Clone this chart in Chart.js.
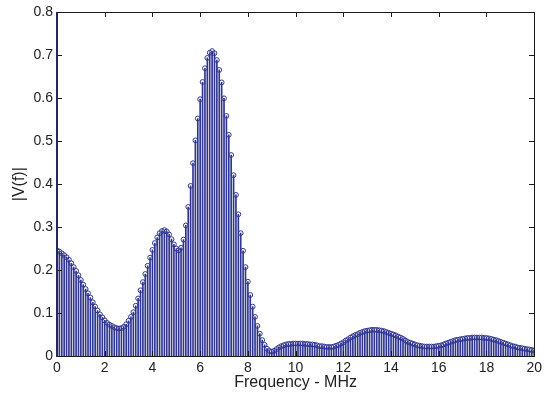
<!DOCTYPE html>
<html>
<head>
<meta charset="utf-8">
<script src="https://cdn.jsdelivr.net/npm/chart.js@4"></script>
<style>
  body { margin: 0; background: #fff; }
  #wrap { width: 546px; height: 396px; }
</style>
</head>
<body>
<div id="wrap"><canvas id="myChart"></canvas></div>
<script>
// muestras cada 0.1 MHz, de 0 a 20 MHz
const fStart = 0;
const fStep = 0.1;
const magnitud = [
  0.246, 0.243, 0.239, 0.235, 0.230, 0.224, 0.216, 0.207, 0.198, 0.188,
  0.177, 0.166, 0.156, 0.146, 0.136, 0.125, 0.115, 0.106, 0.097, 0.090,
  0.083, 0.077, 0.073, 0.070, 0.067, 0.065, 0.064, 0.065, 0.068, 0.074,
  0.082, 0.091, 0.102, 0.117, 0.134, 0.153, 0.172, 0.191, 0.210, 0.229,
  0.247, 0.263, 0.276, 0.286, 0.291, 0.293, 0.290, 0.283, 0.272, 0.260,
  0.250, 0.246, 0.252, 0.271, 0.304, 0.347, 0.396, 0.449, 0.502, 0.553,
  0.598, 0.638, 0.670, 0.694, 0.706, 0.710, 0.705, 0.689, 0.666, 0.637,
  0.600, 0.559, 0.515, 0.468, 0.421, 0.375, 0.330, 0.286, 0.245, 0.207,
  0.173, 0.142, 0.115, 0.091, 0.070, 0.052, 0.037, 0.026, 0.017, 0.012,
  0.010, 0.012, 0.016, 0.020, 0.023, 0.025, 0.027, 0.028, 0.028, 0.029,
  0.029, 0.029, 0.029, 0.029, 0.028, 0.028, 0.027, 0.027, 0.026, 0.025,
  0.023, 0.023, 0.022, 0.021, 0.021, 0.021, 0.022, 0.024, 0.026, 0.029,
  0.032, 0.036, 0.039, 0.043, 0.046, 0.049, 0.051, 0.054, 0.056, 0.058,
  0.059, 0.060, 0.061, 0.061, 0.061, 0.060, 0.059, 0.058, 0.056, 0.054,
  0.052, 0.050, 0.048, 0.045, 0.043, 0.040, 0.036, 0.033, 0.031, 0.029,
  0.027, 0.025, 0.024, 0.023, 0.022, 0.022, 0.022, 0.022, 0.022, 0.023,
  0.024, 0.025, 0.027, 0.029, 0.031, 0.033, 0.035, 0.037, 0.038, 0.039,
  0.040, 0.041, 0.042, 0.042, 0.043, 0.043, 0.043, 0.043, 0.043, 0.042,
  0.042, 0.041, 0.040, 0.038, 0.037, 0.035, 0.033, 0.031, 0.029, 0.027,
  0.025, 0.023, 0.022, 0.020, 0.019, 0.018, 0.017, 0.016, 0.015, 0.014,
  0.013
];
const xTicks = [0, 2, 4, 6, 8, 10, 12, 14, 16, 18, 20];
const yTicks = [0, 0.1, 0.2, 0.3, 0.4, 0.5, 0.6, 0.7, 0.8];

const puntos = magnitud.map((v, i) => ({ x: +(fStart + i * fStep).toFixed(1), y: v }));

const azul = '#2f3591';
const fuente = 'Liberation Sans, Arial, Helvetica, sans-serif';

// marco con marcas hacia dentro, estilo MATLAB
const marco = {
  id: 'marco',
  afterDraw(chart) {
    const c = chart.ctx;
    const a = chart.chartArea;
    const sx = chart.scales.x, sy = chart.scales.y;
    const L = Math.round(a.left), R = Math.round(a.right);
    const T = Math.round(a.top), B = Math.round(a.bottom);
    c.save();
    c.fillStyle = '#1a1a1a';
    xTicks.forEach(t => {
      const px = Math.round(sx.getPixelForValue(t));
      c.fillRect(px, B - 5, 1, 5);
      c.fillRect(px, T, 1, 5);
    });
    yTicks.forEach(t => {
      const py = Math.round(sy.getPixelForValue(t));
      c.fillRect(L, py, 5, 1);
      c.fillRect(R - 5, py, 5, 1);
    });
    c.fillRect(L, T, R - L + 1, 1);
    c.fillRect(R, T, 1, B - T + 1);
    c.fillRect(L, B, R - L + 1, 1);
    c.fillStyle = '#232a60';
    c.fillRect(L - 1, T, 2, B - T + 1);
    c.restore();
  }
};

const ctx = document.getElementById('myChart').getContext('2d');
new Chart(ctx, {
  type: 'bar',
  data: {
    datasets: [{
      type: 'scatter',
      data: puntos,
      showLine: false,
      pointStyle: 'circle',
      pointRadius: 2.4,
      pointBorderWidth: 1,
      pointBorderColor: azul,
      pointBackgroundColor: 'rgba(0,0,0,0)',
      order: 0
    }, {
      type: 'bar',
      data: puntos,
      backgroundColor: azul,
      barThickness: 1,
      order: 1
    }]
  },
  options: {
    responsive: true,
    maintainAspectRatio: false,
    animation: false,
    layout: { padding: { top: 12, right: 11, left: 0, bottom: 0 } },
    plugins: { legend: { display: false }, tooltip: { enabled: false } },
    scales: {
      x: {
        type: 'linear',
        min: 0, max: 20,
        offset: false,
        afterFit: s => { s.height = 40; },
        afterBuildTicks: s => { s.ticks = xTicks.map(v => ({ value: v })); },
        grid: { display: false, drawTicks: false },
        border: { display: false },
        ticks: { padding: 4, color: '#222', font: { family: fuente, size: 14 }, maxRotation: 0 },
        title: { display: true, text: 'Frequency - MHz', color: '#222', font: { family: fuente, size: 16 }, padding: { top: 0, bottom: 4 } }
      },
      y: {
        type: 'linear',
        min: 0, max: 0.8,
        afterFit: s => { s.width = 57; },
        afterBuildTicks: s => { s.ticks = yTicks.map(v => ({ value: v })); },
        grid: { display: false, drawTicks: false },
        border: { display: false },
        ticks: { padding: 4, color: '#222', font: { family: fuente, size: 14 } },
        title: { display: true, text: '|V(f)|', color: '#222', font: { family: fuente, size: 16 }, padding: { top: 10, bottom: 0 } }
      }
    }
  },
  plugins: [marco]
});
</script>
</body>
</html>
